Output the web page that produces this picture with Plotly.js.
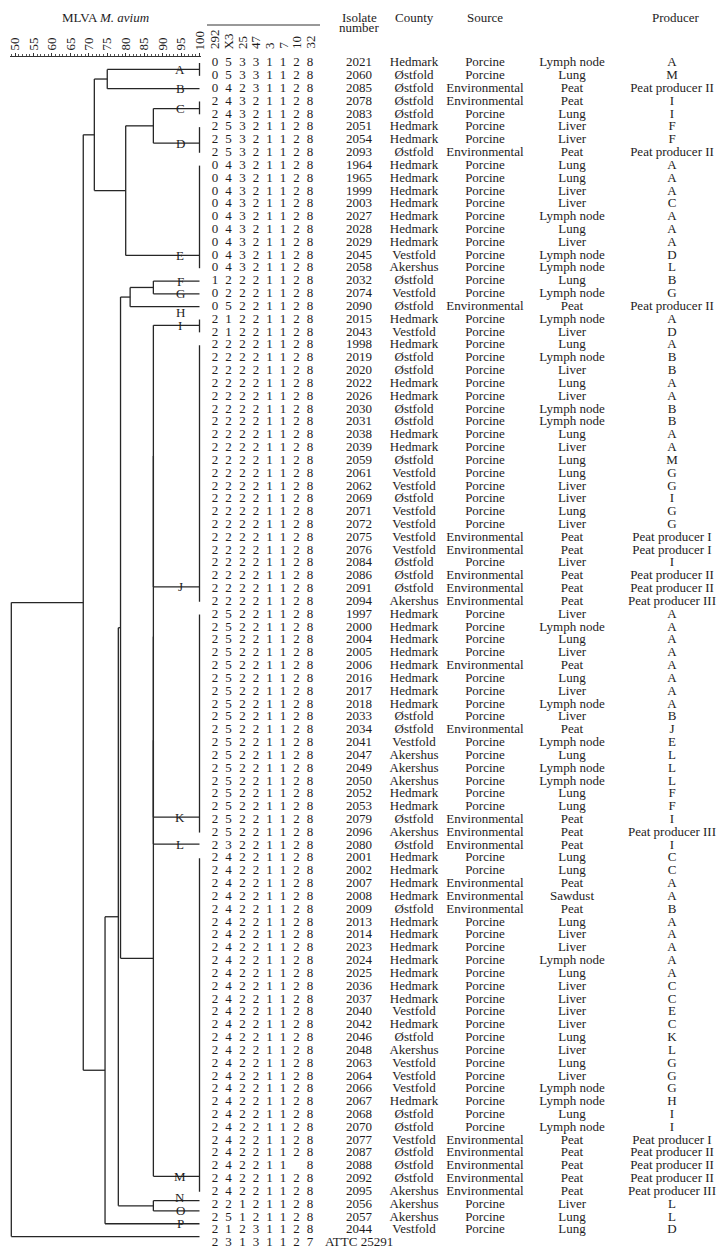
<!DOCTYPE html>
<html><head><meta charset="utf-8">
<script src="https://cdn.plot.ly/plotly-3.0.1.min.js"></script>
<style>html,body{margin:0;padding:0;background:#fff}</style>
</head><body><div id="chart" style="width:722px;height:1256px"></div>
<script>
// ---------------- DATA ----------------
const isolateNumbers = ['2021','2060','2085','2078','2083','2051','2054','2093','1964','1965','1999','2003','2027','2028','2029','2045','2058',
 '2032','2074','2090','2015','2043',
 '1998','2019','2020','2022','2026','2030','2031','2038','2039','2059','2061','2062','2069','2071','2072','2075','2076','2084','2086','2091','2094',
 '1997','2000','2004','2005','2006','2016','2017','2018','2033','2034','2041','2047','2049','2050','2052','2053','2079','2096',
 '2080',
 '2001','2002','2007','2008','2009','2013','2014','2023','2024','2025','2036','2037','2040','2042','2046','2048','2063','2064','2066','2067','2068','2070','2077','2087','2088','2092','2095',
 '2056','2057','2044','ATTC 25291'];

const lociNames = ['292','X3','25','47','3','7','10','32'];
const locus292 = [0,0,0,2,2,2,2,2,0,0,0,0,0,0,0,0,0,
 1,0,0,2,2,
 2,2,2,2,2,2,2,2,2,2,2,2,2,2,2,2,2,2,2,2,2,
 2,2,2,2,2,2,2,2,2,2,2,2,2,2,2,2,2,2,
 2,
 2,2,2,2,2,2,2,2,2,2,2,2,2,2,2,2,2,2,2,2,2,2,2,2,2,2,2,
 2,2,2,2];
const locusX3 = [5,5,4,4,4,5,5,5,4,4,4,4,4,4,4,4,4,
 2,2,5,1,1,
 2,2,2,2,2,2,2,2,2,2,2,2,2,2,2,2,2,2,2,2,2,
 5,5,5,5,5,5,5,5,5,5,5,5,5,5,5,5,5,5,
 3,
 4,4,4,4,4,4,4,4,4,4,4,4,4,4,4,4,4,4,4,4,4,4,4,4,4,4,4,
 2,5,1,3];
const locus25 = [3,3,2,3,3,3,3,3,3,3,3,3,3,3,3,3,3,
 2,2,2,2,2,
 2,2,2,2,2,2,2,2,2,2,2,2,2,2,2,2,2,2,2,2,2,
 2,2,2,2,2,2,2,2,2,2,2,2,2,2,2,2,2,2,
 2,
 2,2,2,2,2,2,2,2,2,2,2,2,2,2,2,2,2,2,2,2,2,2,2,2,2,2,2,
 1,1,2,1];
const locus47 = [3,3,3,2,2,2,2,2,2,2,2,2,2,2,2,2,2,
 2,2,2,2,2,
 2,2,2,2,2,2,2,2,2,2,2,2,2,2,2,2,2,2,2,2,2,
 2,2,2,2,2,2,2,2,2,2,2,2,2,2,2,2,2,2,
 2,
 2,2,2,2,2,2,2,2,2,2,2,2,2,2,2,2,2,2,2,2,2,2,2,2,2,2,2,
 2,2,3,3];
const locus3 = [1,1,1,1,1,1,1,1,1,1,1,1,1,1,1,1,1,
 1,1,1,1,1,
 1,1,1,1,1,1,1,1,1,1,1,1,1,1,1,1,1,1,1,1,1,
 1,1,1,1,1,1,1,1,1,1,1,1,1,1,1,1,1,1,
 1,
 1,1,1,1,1,1,1,1,1,1,1,1,1,1,1,1,1,1,1,1,1,1,1,1,1,1,1,
 1,1,1,1];
const locus7 = [1,1,1,1,1,1,1,1,1,1,1,1,1,1,1,1,1,
 1,1,1,1,1,
 1,1,1,1,1,1,1,1,1,1,1,1,1,1,1,1,1,1,1,1,1,
 1,1,1,1,1,1,1,1,1,1,1,1,1,1,1,1,1,1,
 1,
 1,1,1,1,1,1,1,1,1,1,1,1,1,1,1,1,1,1,1,1,1,1,1,1,1,1,1,
 1,1,1,1];
const locus10 = [2,2,2,2,2,2,2,2,2,2,2,2,2,2,2,2,2,
 2,2,2,2,2,
 2,2,2,2,2,2,2,2,2,2,2,2,2,2,2,2,2,2,2,2,2,
 2,2,2,2,2,2,2,2,2,2,2,2,2,2,2,2,2,2,
 2,
 2,2,2,2,2,2,2,2,2,2,2,2,2,2,2,2,2,2,2,2,2,2,2,2,'',2,2,
 2,2,2,2];
const locus32 = [8,8,8,8,8,8,8,8,8,8,8,8,8,8,8,8,8,
 8,8,8,8,8,
 8,8,8,8,8,8,8,8,8,8,8,8,8,8,8,8,8,8,8,8,8,
 8,8,8,8,8,8,8,8,8,8,8,8,8,8,8,8,8,8,
 8,
 8,8,8,8,8,8,8,8,8,8,8,8,8,8,8,8,8,8,8,8,8,8,8,8,8,8,8,
 8,8,8,7];

const county = ['Hedmark','Østfold','Østfold','Østfold','Østfold','Hedmark','Hedmark','Østfold','Hedmark','Hedmark','Hedmark','Hedmark','Hedmark','Hedmark','Hedmark','Vestfold','Akershus',
 'Østfold','Vestfold','Østfold','Hedmark','Vestfold',
 'Hedmark','Østfold','Østfold','Hedmark','Hedmark','Østfold','Østfold','Hedmark','Hedmark','Østfold','Vestfold','Vestfold','Østfold','Vestfold','Vestfold','Vestfold','Vestfold','Østfold','Østfold','Østfold','Akershus',
 'Hedmark','Hedmark','Hedmark','Hedmark','Hedmark','Hedmark','Hedmark','Hedmark','Østfold','Østfold','Vestfold','Akershus','Akershus','Akershus','Hedmark','Hedmark','Østfold','Akershus',
 'Østfold',
 'Hedmark','Hedmark','Hedmark','Hedmark','Østfold','Hedmark','Hedmark','Hedmark','Hedmark','Hedmark','Hedmark','Hedmark','Vestfold','Hedmark','Østfold','Akershus','Vestfold','Vestfold','Vestfold','Hedmark','Østfold','Østfold','Vestfold','Østfold','Østfold','Østfold','Akershus',
 'Akershus','Akershus','Vestfold',''];

const source = ['Porcine','Porcine','Environmental','Environmental','Porcine','Porcine','Porcine','Environmental','Porcine','Porcine','Porcine','Porcine','Porcine','Porcine','Porcine','Porcine','Porcine',
 'Porcine','Porcine','Environmental','Porcine','Porcine',
 'Porcine','Porcine','Porcine','Porcine','Porcine','Porcine','Porcine','Porcine','Porcine','Porcine','Porcine','Porcine','Porcine','Porcine','Porcine','Environmental','Environmental','Porcine','Environmental','Environmental','Environmental',
 'Porcine','Porcine','Porcine','Porcine','Environmental','Porcine','Porcine','Porcine','Porcine','Environmental','Porcine','Porcine','Porcine','Porcine','Porcine','Porcine','Environmental','Environmental',
 'Environmental',
 'Porcine','Porcine','Environmental','Environmental','Environmental','Porcine','Porcine','Porcine','Porcine','Porcine','Porcine','Porcine','Porcine','Porcine','Porcine','Porcine','Porcine','Porcine','Porcine','Porcine','Porcine','Porcine','Environmental','Environmental','Environmental','Environmental','Environmental',
 'Porcine','Porcine','Porcine',''];

const specimen = ['Lymph node','Lung','Peat','Peat','Lung','Liver','Liver','Peat','Lung','Lung','Liver','Liver','Lymph node','Lung','Liver','Lymph node','Lymph node',
 'Lung','Lymph node','Peat','Lymph node','Liver',
 'Lung','Lymph node','Liver','Lung','Liver','Lymph node','Lymph node','Lung','Liver','Lung','Lung','Liver','Liver','Lung','Liver','Peat','Peat','Liver','Peat','Peat','Peat',
 'Liver','Lymph node','Lung','Liver','Peat','Lung','Liver','Lymph node','Liver','Peat','Lymph node','Lung','Lymph node','Lymph node','Lung','Lung','Peat','Peat',
 'Peat',
 'Lung','Lung','Peat','Sawdust','Peat','Lung','Liver','Liver','Lymph node','Lung','Liver','Liver','Liver','Liver','Lung','Liver','Lung','Liver','Lymph node','Lymph node','Lung','Lymph node','Peat','Peat','Peat','Peat','Peat',
 'Liver','Lung','Lung',''];

const producer = ['A','M','Peat producer II','I','I','F','F','Peat producer II','A','A','A','C','A','A','A','D','L',
 'B','G','Peat producer II','A','D',
 'A','B','B','A','A','B','B','A','A','M','G','G','I','G','G','Peat producer I','Peat producer I','I','Peat producer II','Peat producer II','Peat producer III',
 'A','A','A','A','A','A','A','A','B','J','E','L','L','L','F','F','I','Peat producer III',
 'I',
 'C','C','A','A','B','A','A','A','A','A','C','C','E','C','K','L','G','G','G','H','I','I','Peat producer I','Peat producer II','Peat producer II','Peat producer II','Peat producer III',
 'L','L','D',''];

// Dendrogram: leaf clusters (rows of the table they span, row where their branch sits)
const leafNames    = ['A','B','C','D','E','F','G','H','I','J','K','L','M','N','O','P','ATTC'];
const leafFirstRow = [1,3,4,6,9,18,19,20,21,23,44,62,63,90,91,92,93];
const leafLastRow  = [2,3,5,8,17,18,19,20,22,43,61,62,89,90,91,92,93];
const leafBranchRow= [1.5,3,4.55,7.25,16,18,19,20,21.45,41.85,59.8,61.9,87.8,89.7,90.5,91.5,92.5];
// internal nodes (similarity %, children)
const nodeNames      = ['AB','CD','CDE','ABCDE','FG','FGH','IJ','IJK','IJKL','IJKLM','N1','NO','N2','N3','N4','ROOT'];
const nodeSimilarity = [75.0,87.5,80.0,71.5,87.5,81.2,87.5,87.5,87.5,87.5,78.6,87.5,78.0,74.4,68.5,49.0];
const nodeLeft       = ['A','C','CD','AB','F','FG','I','IJ','IJK','IJKL','FGH','N','N1','N2','ABCDE','N4'];
const nodeRight      = ['B','D','E','CDE','G','H','J','K','L','M','IJKLM','O','NO','P','N3','ATTC'];
const axisTicks = [50,55,60,65,70,75,80,85,90,95,100];

// ---------------- STYLE / LAYOUT ----------------
const W = 722, H = 1256;
const ROW1_PX = 63, ROW_STEP = 12.826;
const serif = 'Liberation Serif, Times New Roman, serif';
const ink = '#1e1c1d';
const fs = 13;
const lociColX = [215, 228.5, 242.5, 256, 269.5, 283, 296.5, 310];
const colX = {isolate: 359, county: 414, source: 485, specimen: 572, producer: 672};
const leafLabelX = 94.85;
const labelShift = {H: -6, N: 3};

const px2row = py => 1 + (py - ROW1_PX) / ROW_STEP;
const py2paper = py => 1 - py / H;
const px2paper = p => p / W;

// compute dendrogram geometry via data coordinates
const pos = {};
leafNames.forEach((n, i) => { pos[n] = {x: 100, y: leafBranchRow[i]}; });
const lx = [], ly = [];
nodeNames.forEach((n, i) => {
  const L = pos[nodeLeft[i]], R = pos[nodeRight[i]], s = nodeSimilarity[i];
  lx.push(s, s, null); ly.push(L.y, R.y, null);
  lx.push(s, L.x, null); ly.push(L.y, L.y, null);
  lx.push(s, R.x, null); ly.push(R.y, R.y, null);
  pos[n] = {x: s, y: (L.y + R.y) / 2};
});
leafNames.forEach((n, i) => {
  if (leafLastRow[i] > leafFirstRow[i]) {
    lx.push(100, 100, null); ly.push(leafFirstRow[i], leafLastRow[i], null);
  }
});

const rows = isolateNumbers.map((_, i) => i + 1);
const traces = [{
  type: 'scatter', mode: 'lines', x: lx, y: ly, xaxis: 'x', yaxis: 'y',
  line: {color: '#262626', width: 1.3}, hoverinfo: 'skip', showlegend: false
}];
function textCol(x, vals) {
  return {type: 'scatter', mode: 'text', xaxis: 'x2', yaxis: 'y',
    x: rows.map(() => x), y: rows, text: vals.map(v => String(v)),
    textposition: 'middle center', textfont: {family: serif, size: fs, color: ink},
    cliponaxis: false, hoverinfo: 'skip', showlegend: false};
}
[locus292, locusX3, locus25, locus47, locus3, locus7, locus10, locus32].forEach((arr, i) => {
  traces.push(textCol(lociColX[i], arr));
});
traces.push(textCol(colX.isolate, isolateNumbers));
traces.push(textCol(colX.county, county));
traces.push(textCol(colX.source, source));
traces.push(textCol(colX.specimen, specimen));
traces.push(textCol(colX.producer, producer));

const annotations = [];
leafNames.forEach((n, i) => {
  if (n === 'ATTC') return;
  annotations.push({xref: 'x', yref: 'y', x: leafLabelX, y: leafBranchRow[i], text: n, showarrow: false,
    xanchor: 'center', yanchor: 'middle', yshift: labelShift[n] || 0,
    font: {family: serif, size: fs, color: ink}});
});
const hdr = (text, x, y, extra) => Object.assign({xref: 'paper', yref: 'paper', x: px2paper(x), y: py2paper(y),
  text, showarrow: false, xanchor: 'center', yanchor: 'middle', font: {family: serif, size: fs, color: ink}}, extra || {});
annotations.push(hdr('MLVA <i>M. avium</i>', 105, 17));
annotations.push(hdr('Isolate', colX.isolate, 17));
annotations.push(hdr('number', colX.isolate, 28));
annotations.push(hdr('County', colX.county, 17));
annotations.push(hdr('Source', colX.source, 17));
annotations.push(hdr('Producer', colX.producer + 4, 17));
lociNames.forEach((n, i) => {
  annotations.push(hdr(n, lociColX[i], 51, {textangle: -90, yanchor: 'bottom'}));
});

const layout = {
  width: W, height: H, margin: {l: 0, r: 0, t: 0, b: 0},
  paper_bgcolor: '#fff', plot_bgcolor: 'rgba(0,0,0,0)', showlegend: false,
  xaxis: {domain: [10 / W, 201 / W], range: [48.645, 100.407], side: 'top', anchor: 'free', position: 1 - 56 / H,
    showline: true, linecolor: '#333', linewidth: 1, ticks: 'outside', ticklen: 3, tickcolor: '#333', tickwidth: 1,
    tickvals: axisTicks, ticktext: axisTicks.map(String), tickangle: -90,
    tickfont: {family: serif, size: fs, color: ink},
    minor: {dtick: 1, ticks: 'outside', ticklen: 2, tickcolor: '#555', showgrid: false},
    showgrid: false, zeroline: false, fixedrange: true},
  xaxis2: {domain: [0, 1], range: [0, W], visible: false, anchor: 'y', fixedrange: true},
  yaxis: {domain: [0, 1], range: [px2row(H), px2row(0)], visible: false, fixedrange: true},
  shapes: [{type: 'line', xref: 'paper', yref: 'paper', x0: px2paper(207), x1: px2paper(320),
    y0: py2paper(25), y1: py2paper(25), line: {color: '#333', width: 1}}],
  annotations
};
Plotly.newPlot('chart', traces, layout, {displayModeBar: false, staticPlot: true});
</script></body></html>
